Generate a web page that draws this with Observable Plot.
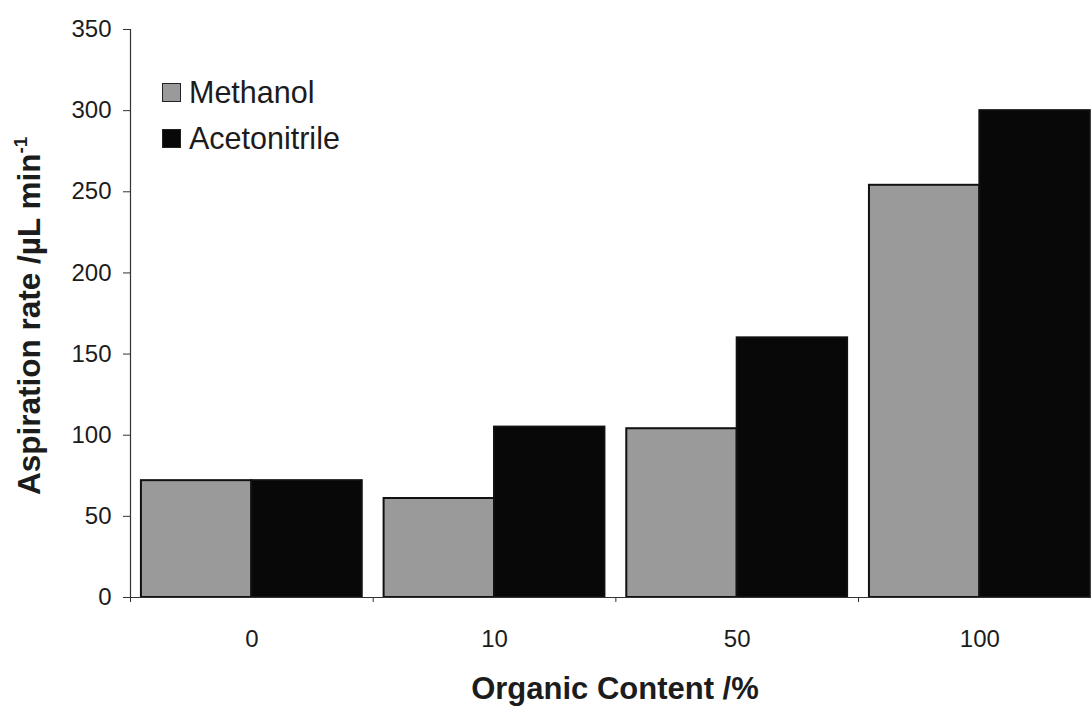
<!DOCTYPE html>
<html><head><meta charset="utf-8">
<script src="https://cdn.jsdelivr.net/npm/d3@7"></script>
<script src="https://cdn.jsdelivr.net/npm/@observablehq/plot@0.6"></script>
<style>
body{margin:0;background:#fff;font-family:"Liberation Sans",Arial,sans-serif;}
#wrap{position:relative;width:1091px;height:707px;overflow:hidden;}
.legend{position:absolute;left:162px;top:75px;font-size:30.5px;color:#1c1c1c;}
.legend div{display:flex;align-items:center;height:34px;margin-bottom:12px;white-space:nowrap;}
.legend span.sw{display:inline-block;width:19px;height:19px;border:1.5px solid #222;margin-right:8px;box-sizing:border-box;}
</style></head>
<body><div id="wrap"></div>
<script>
const categories = ["0", "10", "50", "100"];
const series = ["Methanol", "Acetonitrile"];
const methanol = [72, 61, 104, 254];
const acetonitrile = [72, 105, 160, 300];
const yTicks = [0, 50, 100, 150, 200, 250, 300, 350];
const colors = ["#9a9a9a", "#080808"];
const yLabel = "Aspiration rate /µL min";
const xLabel = "Organic Content /%";

const data = categories.flatMap((c, i) => [
  {cat: c, i, series: series[0], value: methanol[i]},
  {cat: c, i, series: series[1], value: acetonitrile[i]}
]);
const pad = 0.045;

const chart = Plot.plot({
  width: 1091,
  height: 707,
  marginTop: 29,
  marginBottom: 110,
  marginLeft: 130,
  marginRight: 0,
  style: {fontFamily: '"Liberation Sans", Arial, sans-serif', fontSize: "24px", color: "#1c1c1c", background: "#fff"},
  x: {type: "linear", domain: [0, 3.96], axis: null},
  y: {domain: [0, 350], axis: null},
  color: {domain: series, range: colors},
  marks: [
    Plot.rectY(data, {
      x1: d => d.i + (d.series === series[0] ? pad : 0.5),
      x2: d => d.i + (d.series === series[0] ? 0.5 : 1 - pad),
      y: "value",
      fill: "series",
      stroke: "#111",
      strokeWidth: 2
    }),
    Plot.ruleX([0], {stroke: "#333", strokeWidth: 1.2}),
    Plot.ruleY([0], {stroke: "#333", strokeWidth: 1.2}),
    Plot.axisY({ticks: yTicks, tickSize: 7, tickPadding: 12, fontSize: 24, label: null, stroke: "#333"}),
    Plot.axisX({ticks: [0, 1, 2, 3], tickFormat: () => "", tickSize: 5, label: null, stroke: "#333"}),
    Plot.axisX({ticks: [0.5, 1.5, 2.5, 3.5], tickFormat: d => categories[Math.floor(d)], tickSize: 0, tickPadding: 32, fontSize: 24, label: null})
  ]
});

const svg = d3.select(chart);
const yl = svg.append("text")
  .attr("transform", "translate(40,495) rotate(-90)")
  .attr("text-anchor", "start")
  .attr("font-size", 31.5).attr("font-weight", "bold").attr("fill", "#1c1c1c");
yl.append("tspan").text(yLabel);
yl.append("tspan").attr("font-size", 19).attr("dy", -13).text("-1");
svg.append("text")
  .attr("x", 615).attr("y", 699)
  .attr("text-anchor", "middle")
  .attr("font-size", 31).attr("font-weight", "bold").attr("fill", "#1c1c1c")
  .text(xLabel);

const wrap = document.getElementById("wrap");
wrap.appendChild(chart);
const legend = document.createElement("div");
legend.className = "legend";
series.forEach((s, k) => {
  const row = document.createElement("div");
  const sw = document.createElement("span");
  sw.className = "sw";
  sw.style.background = colors[k];
  row.appendChild(sw);
  row.appendChild(document.createTextNode(s));
  legend.appendChild(row);
});
wrap.appendChild(legend);
</script>
</body></html>
